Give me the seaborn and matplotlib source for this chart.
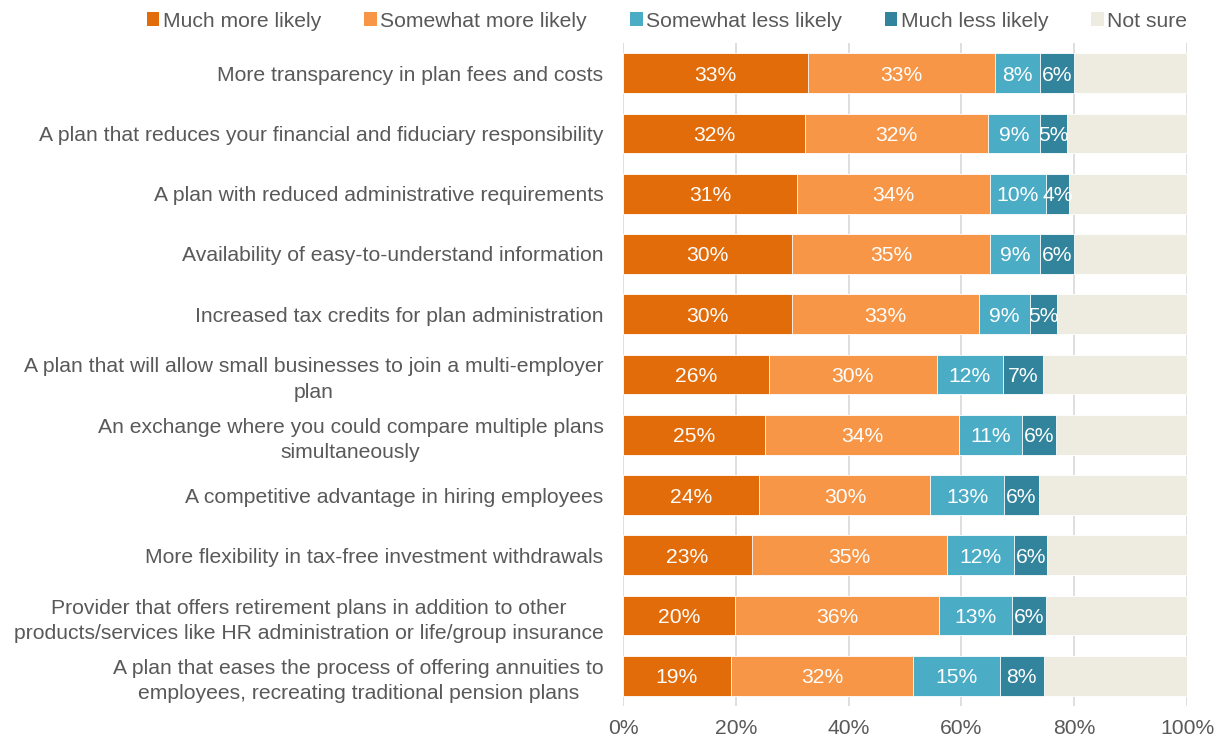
import numpy as np
import pandas as pd
import matplotlib
matplotlib.use("Agg")
import matplotlib.pyplot as plt
import seaborn as sns
from matplotlib.patches import Patch

categories = [
    "More transparency in plan fees and costs",
    "A plan that reduces your financial and fiduciary responsibility",
    "A plan with reduced administrative requirements",
    "Availability of easy-to-understand information",
    "Increased tax credits for plan administration",
    "A plan that will allow small businesses to join a multi-employer\nplan",
    "An exchange where you could compare multiple plans\nsimultaneously",
    "A competitive advantage in hiring employees",
    "More flexibility in tax-free investment withdrawals",
    "Provider that offers retirement plans in addition to other\nproducts/services like HR administration or life/group insurance",
    "A plan that eases the process of offering annuities to\nemployees, recreating traditional pension plans",
]
much_more = [32.8, 32.3, 30.9, 30.0, 30.0, 25.8, 25.2, 24.2, 22.8, 19.9, 19.1]
somewhat_more = [33.2, 32.4, 34.1, 35.0, 33.1, 29.8, 34.4, 30.3, 34.7, 36.1, 32.4]
somewhat_less = [8.0, 9.2, 10.0, 9.0, 9.0, 11.8, 11.1, 13.1, 11.9, 13.0, 15.3]
much_less = [6.0, 4.8, 4.0, 6.0, 4.8, 7.0, 6.0, 6.1, 5.8, 6.0, 7.8]
series_names = ["Much more likely", "Somewhat more likely", "Somewhat less likely",
                "Much less likely", "Not sure"]
colors = ["#E36C0A", "#F79646", "#4BACC6", "#31849B", "#EEECE1"]
tick_labels = ["0%", "20%", "40%", "60%", "80%", "100%"]

vals = np.array([much_more, somewhat_more, somewhat_less, much_less], dtype=float)
not_sure = 100 - vals.sum(axis=0)
allvals = np.vstack([vals, not_sure])
cum = np.cumsum(allvals, axis=0)

sns.set_theme(style="white")
plt.rcParams["font.family"] = ["Liberation Sans", "DejaVu Sans"]
text_color = "#595959"
fs = 15.2

fig = plt.figure(figsize=(12.25, 7.4), dpi=100)
ax = fig.add_axes([623 / 1225, 1 - 706 / 740, (1187 - 623) / 1225, (706 - 43) / 740])

# draw cumulative bars from largest to smallest so each segment shows
for i in range(len(series_names) - 1, -1, -1):
    df = pd.DataFrame({"category": categories, "value": cum[i]})
    sns.barplot(data=df, x="value", y="category", orient="h", color=colors[i],
                saturation=1, width=0.66, edgecolor="white", linewidth=0.6,
                ax=ax, zorder=2)

for i in range(4):
    for j, cat in enumerate(categories):
        v = allvals[i, j]
        ax.text(cum[i, j] - v / 2, j, f"{v:.0f}%", ha="center",
                va="center_baseline", color="white", fontsize=fs, zorder=5)

ax.set_xlim(0, 100)
ax.set_ylim(len(categories) - 0.5, -0.5)
ax.set_xticks([0, 20, 40, 60, 80, 100])
ax.set_xticklabels(tick_labels, color=text_color, fontsize=fs)
ax.set_yticks(range(len(categories)))
ax.set_yticklabels(categories, color=text_color, fontsize=fs, ha="right",
                   multialignment="center", linespacing=1.4)
ax.tick_params(axis="y", pad=14, length=0)
ax.tick_params(axis="x", length=0, pad=9)

ax.set_xlabel("")
ax.set_ylabel("")
for s in ax.spines.values():
    s.set_visible(False)
ax.grid(axis="x", color="#D9D9D9", linewidth=1.2, zorder=0)
ax.set_axisbelow(True)

handles = [Patch(facecolor=c, edgecolor="none") for c in colors]
fig.legend(handles, series_names, loc="upper center", ncol=5,
           bbox_to_anchor=(667 / 1225, 1.01), frameon=False, fontsize=fs,
           handlelength=0.6, handleheight=0.6, handletextpad=0.15,
           columnspacing=2.05, labelcolor=text_color)

fig.savefig("out.png", dpi=100)
